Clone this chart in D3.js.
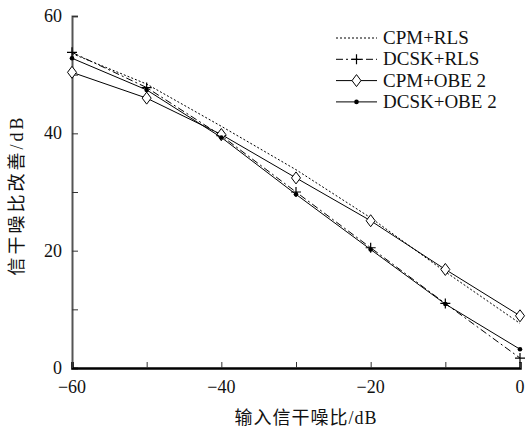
<!DOCTYPE html>
<html>
<head>
<meta charset="utf-8">
<script src="https://cdn.jsdelivr.net/npm/d3@7"></script>
<style>
  body { margin: 0; background: #fff; }
  svg text { fill: #111; }
</style>
</head>
<body>
<svg id="chart" width="527" height="433"></svg>
<script>
const xValues = [-60, -50, -40, -30, -20, -10, 0];
const cpmRls   = [53.6, 48.4, 41.2, 33.8, 25.6, 16.4, 7.6];
const dcskRls  = [53.8, 47.8, 39.6, 30.0, 20.5, 11.0, 1.7];
const cpmObe2  = [50.4, 46.0, 39.8, 32.4, 25.1, 16.8, 8.9];
const dcskObe2 = [52.8, 47.4, 39.3, 29.6, 20.2, 10.9, 3.2];
const yTicks = [0, 20, 40, 60];
const xTicks = [-60, -40, -20, 0];

const serif = "'Liberation Serif', serif";
const cjk = "'Liberation Serif', 'Noto Sans CJK SC', serif";

const series = [
    {name: "CPM+RLS", values: cpmRls, dash: "2,2", marker: "none"},
    {name: "DCSK+RLS", values: dcskRls, dash: "7,3,2,3", marker: "plus"},
    {name: "CPM+OBE 2", values: cpmObe2, dash: null, marker: "diamond"},
    {name: "DCSK+OBE 2", values: dcskObe2, dash: null, marker: "dot"}
];

const svg = d3.select("#chart");
const margin = {top: 16, right: 7, bottom: 65, left: 72};
const width = 527, height = 433;

const x = d3.scaleLinear().domain([-60, 0]).range([margin.left, width - margin.right]);
const y = d3.scaleLinear().domain([0, 60]).range([height - margin.bottom, margin.top]);

// Axes (ticks point inward)
const yAxis = svg.append("g")
    .attr("transform", `translate(${margin.left},0)`)
    .call(d3.axisLeft(y).tickValues(d3.range(0, 61, 10)).tickSize(-6).tickFormat(""));
yAxis.select(".domain").attr("stroke", "#555").attr("stroke-width", 2);
yAxis.selectAll(".tick line").attr("stroke", "#333");

const xAxis = svg.append("g")
    .attr("transform", `translate(0,${y(0)})`)
    .call(d3.axisBottom(x).tickValues(d3.range(-60, 1, 10)).tickSize(-6).tickFormat(""));
xAxis.select(".domain").attr("stroke", "#000").attr("stroke-width", 2.5);
xAxis.selectAll(".tick line").attr("stroke", "#333");

// Tick labels
svg.selectAll(".ylab")
    .data(yTicks)
    .enter()
    .append("text")
    .attr("x", margin.left - 10)
    .attr("y", d => y(d) + 6)
    .attr("text-anchor", "end")
    .attr("font-family", serif)
    .style("font-size", "18px")
    .text(d => d);

svg.selectAll(".xlab")
    .data(xTicks)
    .enter()
    .append("text")
    .attr("x", d => x(d))
    .attr("y", y(0) + 25)
    .attr("text-anchor", "middle")
    .attr("font-family", serif)
    .style("font-size", "18px")
    .text(d => d < 0 ? "\u2212" + Math.abs(d) : d);

// Axis titles
svg.append("text")
    .attr("x", (margin.left + width - margin.right) / 2 + 10)
    .attr("y", 424)
    .attr("text-anchor", "middle")
    .attr("font-family", cjk)
    .style("font-size", "18px")
    .style("letter-spacing", "1px")
    .text("输入信干噪比/dB");

svg.append("text")
    .attr("transform", "translate(23,195) rotate(-90)")
    .attr("text-anchor", "middle")
    .attr("font-family", cjk)
    .style("font-size", "18px")
    .style("letter-spacing", "3px")
    .text("信干噪比改善/dB");

// Lines
const line = d3.line()
    .x((d, i) => x(xValues[i]))
    .y(d => y(d));

function drawMarker(g, type, cx, cy) {
    if (type === "plus") {
        g.append("path")
            .attr("d", `M${cx - 5},${cy}H${cx + 5}M${cx},${cy - 5}V${cy + 5}`)
            .attr("stroke", "#000").attr("stroke-width", 1.2);
    } else if (type === "diamond") {
        g.append("path")
            .attr("d", `M${cx},${cy - 6}L${cx + 4.5},${cy}L${cx},${cy + 6}L${cx - 4.5},${cy}Z`)
            .attr("fill", "#fff").attr("stroke", "#000").attr("stroke-width", 1);
    } else if (type === "dot") {
        g.append("circle")
            .attr("cx", cx).attr("cy", cy).attr("r", 2.3)
            .attr("fill", "#000");
    }
}

series.forEach(s => {
    const g = svg.append("g");
    g.append("path")
        .datum(s.values)
        .attr("d", line)
        .attr("fill", "none")
        .attr("stroke", "#000")
        .attr("stroke-width", 1)
        .attr("stroke-dasharray", s.dash);
    s.values.forEach((v, i) => drawMarker(g, s.marker, x(xValues[i]), y(v)));
});

// Legend
const legend = svg.append("g").attr("transform", "translate(336,38)");
series.forEach((s, i) => {
    const row = legend.append("g").attr("transform", `translate(0,${i * 21.3})`);
    row.append("line")
        .attr("x1", 0).attr("x2", 41)
        .attr("y1", 0).attr("y2", 0)
        .attr("stroke", "#000")
        .attr("stroke-width", 1)
        .attr("stroke-dasharray", s.dash);
    drawMarker(row, s.marker, 20.5, 0);
    row.append("text")
        .attr("x", 47)
        .attr("y", 6)
        .attr("font-family", serif)
        .style("font-size", "19px")
        .text(s.name);
});
</script>
</body>
</html>
